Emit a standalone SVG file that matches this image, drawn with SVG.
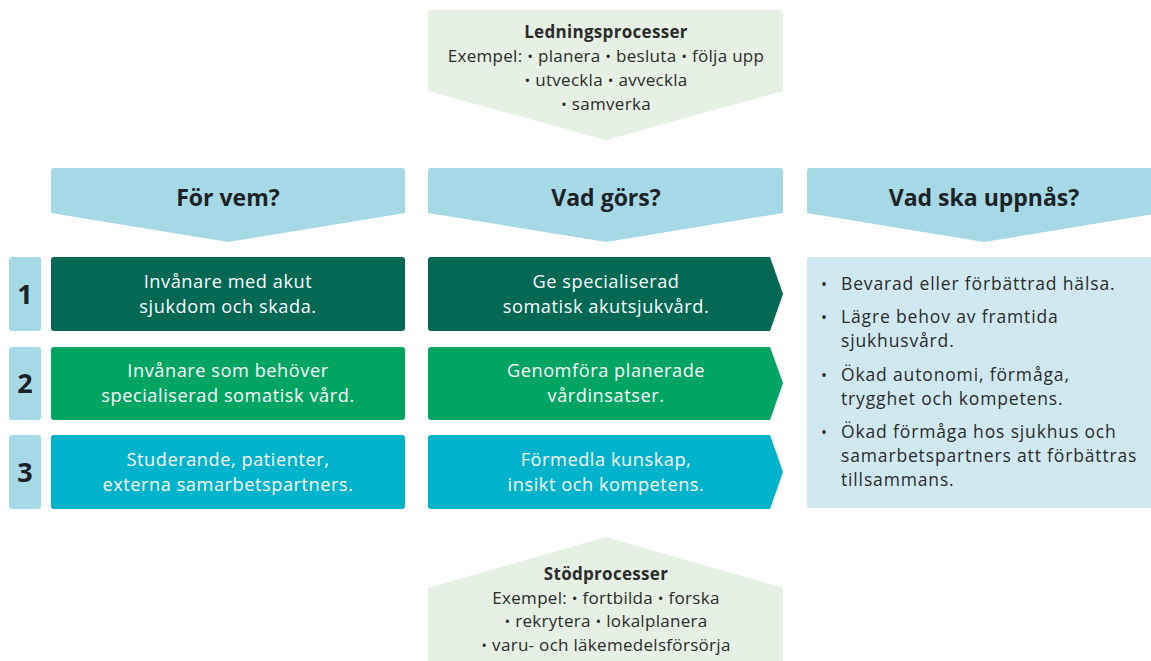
<svg xmlns="http://www.w3.org/2000/svg" width="1151" height="661" viewBox="0 0 1151 661">
<style>
text{font-family:"Open Sans","Noto Sans","Liberation Sans",sans-serif;}
.proc{fill:#e6f0e4;}
.hdr{fill:#a6d9e6;}
.num{fill:#a6d9e6;}
.r1{fill:#006853;}
.r2{fill:#00a562;}
.r3{fill:#00b3cc;}
.res{fill:#d0e9f0;}
.ht{font-size:23px;font-weight:bold;fill:#1c2326;text-anchor:middle;}
.pt{font-size:17px;letter-spacing:0.3px;fill:#2b2b2b;text-anchor:middle;}
.pb{font-weight:bold;}
.wt{font-size:18.2px;letter-spacing:0.55px;fill:#ffffff;text-anchor:middle;}
.nt{font-size:27px;font-weight:bold;fill:#1c2326;text-anchor:middle;}
.rt{font-size:17.5px;letter-spacing:0.85px;fill:#2b2b2b;}
.b{font-size:0.9em;}
</style>
<g id="ledningsprocesser">
<path class="proc" d="M431,10 H780 Q783,10 783,13 V91 L606,140 L428,91 V13 Q428,10 431,10 Z"/>
<text class="pt pb" x="606" y="38">Ledningsprocesser</text>
<text class="pt" x="606" y="62">Exempel: <tspan class="b">•</tspan> planera <tspan class="b">•</tspan> besluta <tspan class="b">•</tspan> följa upp</text>
<text class="pt" x="606" y="86"><tspan class="b">•</tspan> utveckla <tspan class="b">•</tspan> avveckla</text>
<text class="pt" x="606" y="110"><tspan class="b">•</tspan> samverka</text>
</g>
<g id="hdr-forvem">
<path class="hdr" d="M54,168 H402 Q405,168 405,171 V213 L228,242 L51,213 V171 Q51,168 54,168 Z"/>
<text class="ht" x="228" y="206">För vem?</text>
</g>
<g id="hdr-vadgors">
<path class="hdr" d="M431,168 H780 Q783,168 783,171 V213 L606,242 L428,213 V171 Q428,168 431,168 Z"/>
<text class="ht" x="606" y="206">Vad görs?</text>
</g>
<g id="hdr-uppnas">
<path class="hdr" d="M810,168 H1160 V213 L984,242 L807,213 V171 Q807,168 810,168 Z"/>
<text class="ht" x="984" y="206">Vad ska uppnås?</text>
</g>
<g id="num1"><rect class="num" x="9" y="257" width="32" height="74" rx="3"/><text class="nt" x="25" y="304">1</text></g>
<g id="num2"><rect class="num" x="9" y="347" width="32" height="73" rx="3"/><text class="nt" x="25" y="393">2</text></g>
<g id="num3"><rect class="num" x="9" y="435" width="32" height="74" rx="3"/><text class="nt" x="25" y="482">3</text></g>
<g id="forvem1"><rect class="r1" x="51" y="257" width="354" height="74" rx="3"/>
<text class="wt" x="228" y="288">Invånare med akut</text><text class="wt" x="228" y="313">sjukdom och skada.</text></g>
<g id="forvem2"><rect class="r2" x="51" y="347" width="354" height="73" rx="3"/>
<text class="wt" x="228" y="377">Invånare som behöver</text><text class="wt" x="228" y="402">specialiserad somatisk vård.</text></g>
<g id="forvem3"><rect class="r3" x="51" y="435" width="354" height="74" rx="3"/>
<text class="wt" x="228" y="466">Studerande, patienter,</text><text class="wt" x="228" y="491">externa samarbetspartners.</text></g>
<g id="vadgors1"><path class="r1" d="M431,257 H770 L783,294 L770,331 H431 Q428,331 428,328 V260 Q428,257 431,257 Z"/>
<text class="wt" x="606" y="288">Ge specialiserad</text><text class="wt" x="606" y="313">somatisk akutsjukvård.</text></g>
<g id="vadgors2"><path class="r2" d="M431,347 H770 L783,383 L770,420 H431 Q428,420 428,417 V350 Q428,347 431,347 Z"/>
<text class="wt" x="606" y="377">Genomföra planerade</text><text class="wt" x="606" y="402">vårdinsatser.</text></g>
<g id="vadgors3"><path class="r3" d="M431,435 H770 L783,472 L770,509 H431 Q428,509 428,506 V438 Q428,435 431,435 Z"/>
<text class="wt" x="606" y="466">Förmedla kunskap,</text><text class="wt" x="606" y="491">insikt och kompetens.</text></g>
<g id="uppnas">
<path class="res" d="M810,257 H1160 V508 H810 Q807,508 807,505 V260 Q807,257 810,257 Z"/>
<text class="rt" x="821" y="290"><tspan class="b">•</tspan></text><text class="rt" x="841" y="290">Bevarad eller förbättrad hälsa.</text>
<text class="rt" x="821" y="323"><tspan class="b">•</tspan></text><text class="rt" x="841" y="323">Lägre behov av framtida</text>
<text class="rt" x="841" y="347">sjukhusvård.</text>
<text class="rt" x="821" y="381"><tspan class="b">•</tspan></text><text class="rt" x="841" y="381">Ökad autonomi, förmåga,</text>
<text class="rt" x="841" y="405">trygghet och kompetens.</text>
<text class="rt" x="821" y="438"><tspan class="b">•</tspan></text><text class="rt" x="841" y="438">Ökad förmåga hos sjukhus och</text>
<text class="rt" x="841" y="462">samarbetspartners att förbättras</text>
<text class="rt" x="841" y="486">tillsammans.</text>
</g>
<g id="stodprocesser">
<path class="proc" d="M428,588 L606,537 L783,588 V661 H428 Z"/>
<text class="pt pb" x="606" y="580">Stödprocesser</text>
<text class="pt" x="606" y="603.5">Exempel: <tspan class="b">•</tspan> fortbilda <tspan class="b">•</tspan> forska</text>
<text class="pt" x="606" y="627"><tspan class="b">•</tspan> rekrytera <tspan class="b">•</tspan> lokalplanera</text>
<text class="pt" x="606" y="650.5"><tspan class="b">•</tspan> varu- och läkemedelsförsörja</text>
</g>
<g id="connectors"></g>
</svg>
